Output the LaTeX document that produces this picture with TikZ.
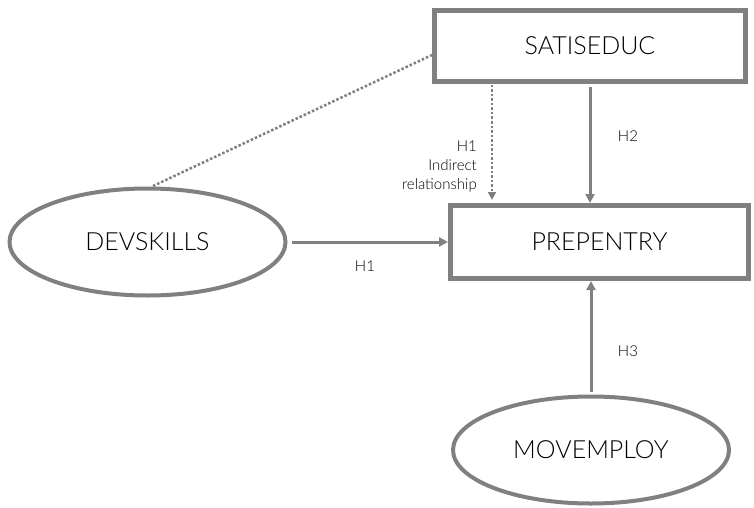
\documentclass[tikz,border=0pt]{standalone}
\usepackage{fontspec}
\setmainfont{Lato}[UprightFont={* Light}]
\usetikzlibrary{shapes.geometric,arrows.meta}
\definecolor{lg}{HTML}{808080}
\begin{document}
\begin{tikzpicture}[x=1pt,y=-1pt,
  boxnode/.style={draw=lg,line width=5pt,minimum width=#1,minimum height=71pt,inner sep=0pt,font=\fontsize{25}{28}\selectfont},
  ellnode/.style={ellipse,draw=lg,line width=4pt,minimum width=276pt,minimum height=107pt,inner sep=0pt,font=\fontsize{25}{28}\selectfont},
  link/.style={draw=lg,line width=3pt,-{Triangle[length=9pt,width=9pt]}},
  dotlink/.style={draw=lg,line width=2.5pt,dash pattern=on 2.5pt off 2pt},
  lbl/.style={font=\fontsize{15}{19}\selectfont,inner sep=0pt}]
\useasboundingbox (0,0) rectangle (754,508);
\node[boxnode=311pt] (sat) at (590,46) {SATISEDUC};
\node[boxnode=298pt,minimum height=73pt] (prep) at (599.5,242) {PREPENTRY};
\node[ellnode] (dev) at (147.5,242) {DEVSKILLS};
\node[ellnode] (mov) at (591,450) {MOVEMPLOY};
\coordinate (dt) at (153,186);
\coordinate (sl) at (432,55);
\draw[dotlink] (dt) -- (sl);
\coordinate (ds) at (492,85);
\coordinate (de) at (492,200);
\draw[dotlink,-{Triangle[length=8pt,width=8pt]}] (ds) -- (de);
\draw[link] (dev.east) ++(4,0) coordinate (a1) (a1) -- (prep.west);
\draw[link] (sat.south -| 590,0) ++(0,3) coordinate (s1) (s1) -- (prep.north -| 590,0);
\draw[link] (mov.north -| 591,0) ++(0,-3) coordinate (m1) (m1) -- (prep.south -| 591,0);
\node[lbl] (h1) at (365,266) {H1};
\node[lbl] (h2) at (628,136) {H2};
\node[lbl] (h3) at (628,351) {H3};
\node[lbl,align=right,anchor=east] (h1i) at (477,166) {H1\\Indirect\\relationship};
\end{tikzpicture}
\end{document}
